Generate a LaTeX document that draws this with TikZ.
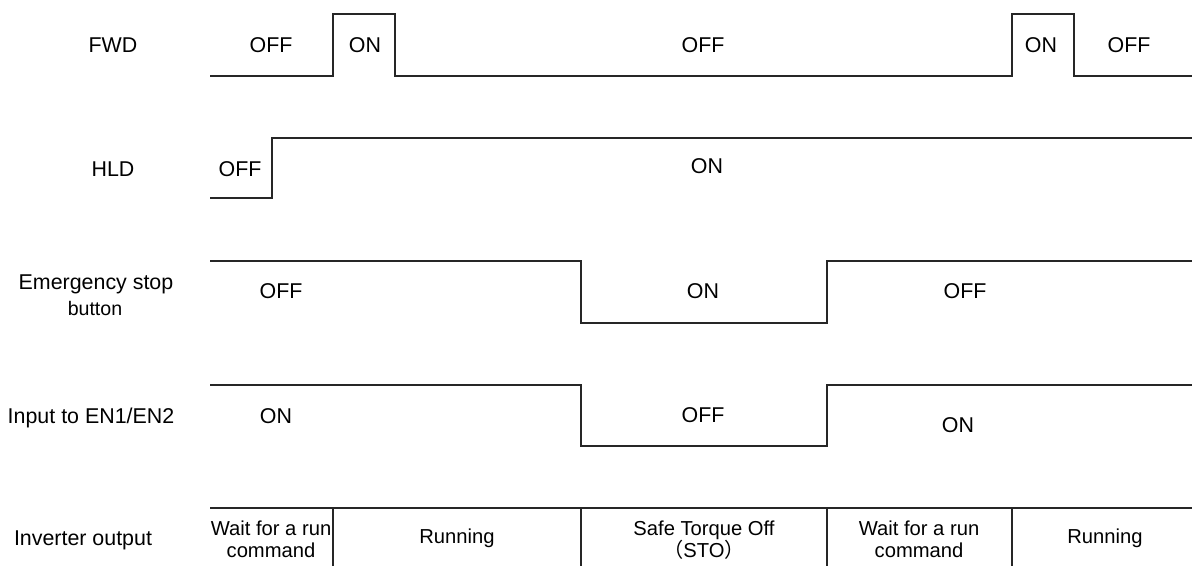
\documentclass[tikz,border=0pt]{standalone}
\usepackage{fontspec}
\setmainfont{Liberation Sans}
\newfontfamily\cjk{Noto Sans CJK JP}

\begin{document}
\begin{tikzpicture}[x=0.5pt,y=-0.5pt,line width=0.75pt,
  sig/.style={line width=0.75pt,draw=black!85,line join=miter},
  lbl/.style={anchor=base,inner sep=0pt,font=\fontsize{10.7}{12}\selectfont},
  small/.style={anchor=base,inner sep=0pt,font=\fontsize{9.8}{11}\selectfont},
  cell/.style={anchor=center,inner sep=0pt,align=center,font=\fontsize{10.1}{11}\selectfont}]
\useasboundingbox (0,0) rectangle (1192,566);
% ---- FWD ----
\node[lbl] (fwd) at (113,53) {FWD};
\draw[sig] (210,76) -- (333,76) -- (333,14) -- (395,14) -- (395,76)
  -- (1012,76) -- (1012,14) -- (1074,14) -- (1074,76) -- (1192,76);
\node[lbl] (fwdoffa) at (271,53) {OFF};
\node[lbl] (fwdona)  at (365,53) {ON};
\node[lbl] (fwdoffb) at (703,53) {OFF};
\node[lbl] (fwdonb)  at (1041,53) {ON};
\node[lbl] (fwdoffc) at (1129,53) {OFF};
% ---- HLD ----
\node[lbl] (hld) at (113,177) {HLD};
\draw[sig] (210,198) -- (272,198) -- (272,138) -- (1192,138);
\node[lbl] (hldoff) at (240,177) {OFF};
\node[lbl] (hldon)  at (707,174) {ON};
% ---- emergency stop button ----
\node[lbl] (estop)  at (96,290) {Emergency stop};
\node[small] (estopb) at (95,315) {button};
\draw[sig] (210,261) -- (581,261) -- (581,323) -- (827,323) -- (827,261) -- (1192,261);
\node[lbl] (estopoffa) at (281,299) {OFF};
\node[lbl] (estopon)   at (703,299) {ON};
\node[lbl] (estopoffb) at (965,299) {OFF};
% ---- input to EN1/EN2 ----
\node[lbl] (en) at (91,423) {Input to EN1/EN2};
\draw[sig] (210,385) -- (581,385) -- (581,446) -- (827,446) -- (827,385) -- (1192,385);
\node[lbl] (enona)  at (276,423) {ON};
\node[lbl] (enoff)  at (703,422) {OFF};
\node[lbl] (enonb)  at (958,432) {ON};
% ---- inverter output ----
\node[lbl] (inv) at (83,545) {Inverter output};
\draw[sig] (210,508) -- (1192,508);
\foreach \x in {333,581,827,1012}
  \draw[sig] (\x,508) -- (\x,566);
\node[cell] (waita) at (271,539) {Wait for a run\\command};
\node[cell] (runa)  at (457,538) {Running};
\node[cell] (sto)   at (704,540) {Safe Torque Off\\{\cjk （}STO{\cjk ）}};
\node[cell] (waitb) at (919,539) {Wait for a run\\command};
\node[cell] (runb)  at (1105,538) {Running};
\end{tikzpicture}
\end{document}
